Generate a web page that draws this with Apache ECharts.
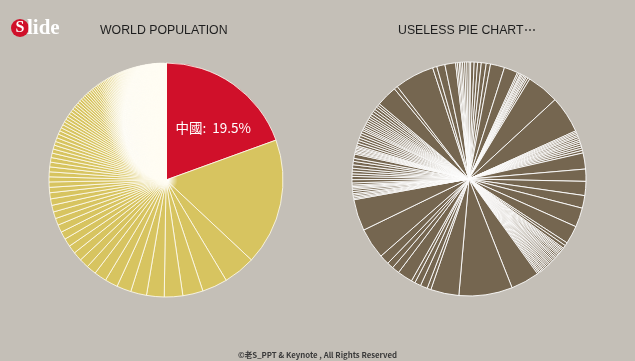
<!DOCTYPE html>
<html>
<head>
<meta charset="utf-8">
<script src="https://cdn.jsdelivr.net/npm/echarts@6/dist/echarts.min.js"></script>
<style>
html,body{margin:0;padding:0;background:#c4bfb7;}
#chart{width:635px;height:361px;}
</style>
</head>
<body>
<div id="chart"></div>
<script>
// World population (millions), sorted descending
var countries = ["中國","India","United States","Indonesia","Brazil","Pakistan","Nigeria","Bangladesh","Russia","Japan","Mexico","Philippines","Ethiopia","Vietnam","Egypt","Germany","Iran","Turkey","DR Congo","Thailand","France","United Kingdom","Italy","Myanmar","South Africa","South Korea","Tanzania","Colombia","Spain","Ukraine","Kenya","Argentina","Algeria","Poland","Sudan","Uganda","Canada","Iraq","Morocco","Afghanistan","Peru","Venezuela","Malaysia","Uzbekistan","Saudi Arabia","Nepal","Ghana","Mozambique","North Korea","Yemen","Australia","Taiwan","Madagascar","Cameroon","Syria","Angola","Romania","Sri Lanka","Cote d'Ivoire","Niger","Chile","Burkina Faso","Netherlands","Kazakhstan","Malawi","Ecuador","Guatemala","Mali","Cambodia","Zambia","Zimbabwe","Senegal","Chad","Rwanda","Guinea","South Sudan","Cuba","Belgium","Tunisia","Greece","Somalia","Bolivia","Czech Republic","Portugal","Benin","Dominican Republic","Burundi","Haiti","Hungary","Sweden","Azerbaijan","Belarus","UAE","Austria","Tajikistan","Honduras","Switzerland","Israel","Papua New Guinea","Jordan","Serbia","Hong Kong","Bulgaria","Togo","Laos","Paraguay","El Salvador","Eritrea","Libya","Sierra Leone","Nicaragua","Denmark","Kyrgyzstan","Singapore","Slovakia","Finland","Turkmenistan","Norway","Costa Rica","Lebanon","Central African Rep.","Ireland","New Zealand","Congo","Palestine","Liberia","Croatia","Georgia","Mauritania","Panama","Bosnia","Puerto Rico","Oman","Moldova","Uruguay","Kuwait","Albania","Armenia","Lithuania","Mongolia","Jamaica","Namibia","Qatar","Lesotho","Macedonia","Slovenia","Botswana","Latvia","Gambia","Guinea-Bissau","Gabon","Trinidad and Tobago","Bahrain","Estonia","Mauritius","Swaziland","Timor-Leste","Cyprus","Fiji","Djibouti","Guyana","Equatorial Guinea","Bhutan","Comoros","Montenegro","Macau","Western Sahara","Solomon Islands","Suriname","Luxembourg","Cape Verde","Malta","Brunei","Bahamas","Maldives","Belize","Iceland","Barbados","French Polynesia","New Caledonia","Vanuatu","Samoa","Sao Tome","Saint Lucia","Guam","Curacao","St Vincent","Grenada","Kiribati","Tonga","Micronesia","Aruba","Seychelles","Antigua","Andorra","Dominica","Bermuda","Greenland","Marshall Islands","St Kitts","Faroe Islands","Monaco","Liechtenstein","San Marino","Palau","Tuvalu","Nauru"];
var population = [1391,1252,316,250,200,182,174,157,143,127,122,98,94,90,82,81,77,75,68,67,66,64,60,53,53,50,49,48,47,45,44,41,39,38,38,38,35,33,33,31,30,30,30,30,29,28,26,26,25,24,23,23,23,22,22,21,20,20,20,18,18,17,17,17,16,16,15,15,15,15,14,14,13,12,12,11,11,11,11,11,10,10,10,10,10,10,10,10,10,10,9.4,9.4,9.3,8.5,8.2,8.1,8.1,7.7,7.3,7.3,7.2,7.2,7.2,6.8,6.8,6.8,6.3,6.3,6.2,6.1,6.1,5.6,5.5,5.4,5.4,5.4,5.2,5.0,4.9,4.8,4.6,4.6,4.5,4.4,4.3,4.3,4.3,4.3,3.9,3.9,3.8,3.7,3.6,3.5,3.4,3.4,3.2,3.0,3.0,2.8,2.8,2.3,2.2,2.1,2.1,2.1,2.0,2.0,1.8,1.7,1.7,1.3,1.3,1.3,1.2,1.2,1.1,1.1,0.88,0.87,0.8,0.76,0.75,0.73,0.62,0.57,0.57,0.56,0.54,0.53,0.5,0.43,0.42,0.38,0.35,0.33,0.33,0.28,0.28,0.26,0.25,0.19,0.19,0.18,0.17,0.16,0.11,0.1,0.1,0.1,0.1,0.1,0.09,0.09,0.08,0.07,0.065,0.056,0.05,0.054,0.049,0.038,0.037,0.031,0.02,0.01,0.01];

// "Useless" pie: slice sizes, clockwise from 12 o'clock
var uselessValues = [0.8,1.6,1.6,1.7,2.3,2.0,6.6,6.4,0.7,0.8,0.5,0.6,0.7,0.7,0.6,0.8,1.0,15.1,17.3,0.7,0.7,0.8,0.7,0.9,0.9,0.8,0.9,1.0,1.0,1.1,1.2,7.5,5.7,6.6,5.9,9.0,8.5,1.5,1.5,0.7,0.6,0.7,0.7,0.6,0.7,0.8,0.7,0.6,0.7,0.7,0.6,0.7,0.7,0.6,0.7,0.7,0.6,0.7,0.7,0.6,0.7,0.7,0.6,0.7,13.4,25.0,13.2,1.8,3.3,2.9,1.8,7.1,3.5,3.0,4.6,14.4,14.7,0.6,0.7,0.8,0.7,1.0,1.0,0.7,0.6,0.7,1.0,1.5,1.5,1.2,1.3,1.3,1.6,1.6,1.4,2.0,0.7,0.6,0.7,0.7,0.6,0.7,1.2,1.3,1.2,1.3,1.2,1.2,0.8,0.8,1.0,1.0,1.0,1.0,1.0,1.0,1.2,1.3,1.2,1.3,1.0,1.0,9.8,1.7,18.5,2.0,3.8,5.0,0.8,0.9,0.7,0.8,1.0,1.0,1.0];

var RED = '#d0102a', GOLD = '#d7c460', BROWN = '#756650';
var chart = echarts.init(document.getElementById('chart'));

function mix(a, b, t) {
  var pa = [parseInt(a.substr(1,2),16),parseInt(a.substr(3,2),16),parseInt(a.substr(5,2),16)];
  var pb = [parseInt(b.substr(1,2),16),parseInt(b.substr(3,2),16),parseInt(b.substr(5,2),16)];
  return 'rgb(' + pa.map(function(v,i){return Math.round(v + (pb[i]-v)*t);}).join(',') + ')';
}

var total = population.reduce(function(s,v){return s+v;},0);
var cum = 0;
var worldData = population.map(function(v, i) {
  var mid = (cum + v/2) / total * 360;
  cum += v;
  var color;
  if (i === 0) {
    color = RED;
  } else {
    var t = Math.max(0, Math.min(1, (mid - 262) / 86));
    var w = Math.max(0.02, Math.pow(t, 1.5));
    var fade = 0.08 + 0.35 * t;
    var end = w + fade;
    var stops;
    if (end <= 1) {
      stops = [{offset:0,color:'#ffffff'},{offset:w,color:'#ffffff'},{offset:end,color:GOLD},{offset:1,color:GOLD}];
    } else {
      var ws = Math.min(w, 0.995);
      stops = [{offset:0,color:'#ffffff'},{offset:ws,color:'#ffffff'},{offset:1,color:mix('#ffffff', GOLD, Math.max(0,(1-ws)/fade))}];
    }
    color = new echarts.graphic.RadialGradient(166, 180, 117, stops, true);
  }
  return {
    name: countries[i], value: v,
    itemStyle: {color: color},
    label: {show: i === 0}
  };
});

var uselessData = uselessValues.map(function(v, i){ return {name: 'item' + (i+1), value: v}; });

chart.setOption({
  animation: false,
  backgroundColor: '#c4bfb7',
  title: [
    {text: 'WORLD POPULATION', left: 95, top: 20, textStyle: {fontFamily: 'Liberation Sans', fontSize: 12.3, fontWeight: 'normal', color: '#1e1e1e'}},
    {text: 'USELESS PIE CHART⋯', left: 393, top: 20, textStyle: {fontFamily: 'Liberation Sans', fontSize: 12.3, fontWeight: 'normal', color: '#1e1e1e'}},
    {text: '©老S_PPT & Keynote , All Rights Reserved', left: 'center', top: 346, textStyle: {fontFamily: 'Noto Sans CJK SC', fontSize: 7.8, fontWeight: 'bold', color: '#3a3a3a'}}
  ],
  graphic: [
    {type: 'circle', shape: {cx: 20, cy: 28, r: 9}, style: {fill: RED}},
    {type: 'text', x: 20, y: 28, style: {text: 'S', fill: '#fff', font: 'bold 16px "Liberation Serif"', align: 'center', verticalAlign: 'middle'}},
    {type: 'text', x: 27, y: 29, style: {text: 'lide', fill: '#fff', font: 'bold 21px "Liberation Serif"', align: 'left', verticalAlign: 'middle'}}
  ],
  series: [
    {
      type: 'pie', center: [166, 180], radius: [0, 117], startAngle: 90, clockwise: true,
      avoidLabelOverlap: false, silent: true,
      itemStyle: {borderColor: '#fffdf2', borderWidth: 0.8},
      label: {
        position: 'inside', color: '#fff', fontSize: 13.5, fontFamily: 'Noto Sans CJK TC',
        offset: [12, -2],
        formatter: function(p){ return p.name + ':  ' + p.percent.toFixed(1) + '%'; }
      },
      labelLine: {show: false},
      emphasis: {disabled: true},
      data: worldData
    },
    {
      type: 'pie', center: [469, 179], radius: [0, 117], startAngle: 90, clockwise: true,
      avoidLabelOverlap: false, silent: true,
      itemStyle: {color: BROWN, borderColor: '#ffffff', borderWidth: 0.9},
      label: {show: false}, labelLine: {show: false},
      emphasis: {disabled: true},
      data: uselessData
    }
  ]
});
</script>
</body>
</html>
